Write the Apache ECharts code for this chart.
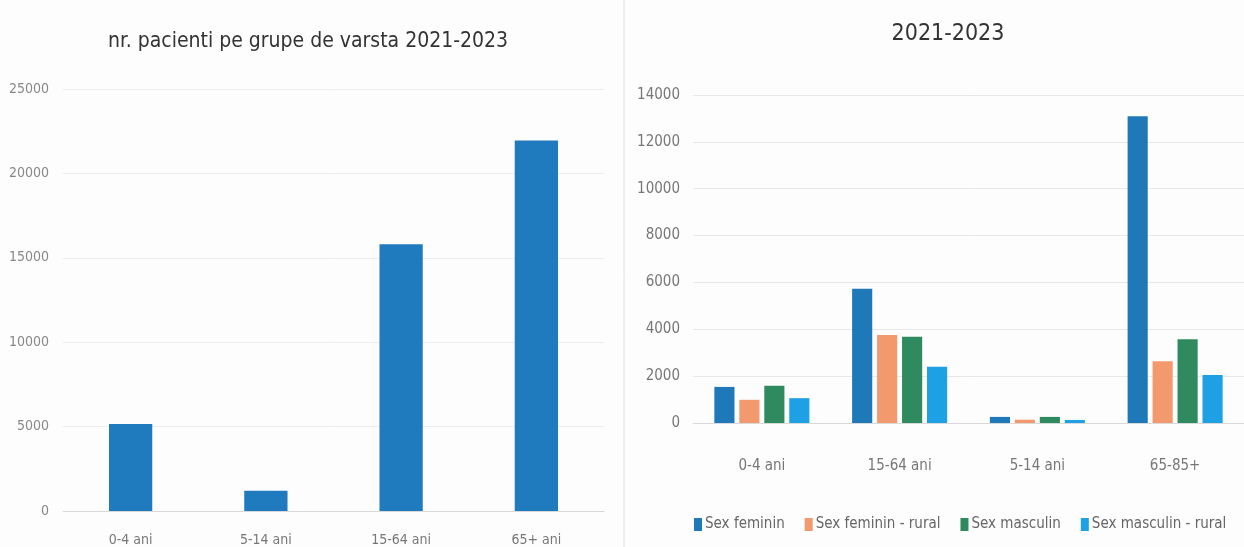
<!DOCTYPE html>
<html>
<head>
<meta charset="utf-8">
<script src="https://cdn.jsdelivr.net/npm/echarts@6/dist/echarts.min.js"></script>
<style>
html,body{margin:0;padding:0;background:#fdfdfd;}
#main{width:1244px;height:547px;}
</style>
</head>
<body>
<div id="main"></div>
<script>
// grafic stanga: total pacienti pe grupe de varsta
var ageGroups = ['0-4 ani', '5-14 ani', '15-64 ani', '65+ ani']
var totalPatients = [5150, 1200, 15800, 21950]

// grafic dreapta: pe sex si mediu
var ageGroupsSex = ['0-4 ani', '15-64 ani', '5-14 ani', '65-85+']
var seriesNames = ['Sex feminin', 'Sex feminin - rural', 'Sex masculin', 'Sex masculin - rural']
var femTotal = [1540, 5730, 260, 13090]
var femRural = [990, 3760, 140, 2640]
var mascTotal = [1590, 3680, 260, 3580]
var mascRural = [1060, 2400, 130, 2050]
var seriesColors = ['#1f79b8', '#f29a6e', '#2f8a5f', '#1ea0e4']

var font = '"DejaVu Sans Condensed", "Liberation Sans Narrow", "Liberation Sans", sans-serif'

var chart = echarts.init(document.getElementById('main'))

var rightData = [femTotal, femRural, mascTotal, mascRural]
var rightSeries = []
for (let i = 0; i < seriesNames.length; i++) {
	rightSeries.push({
		name: seriesNames[i],
		type: 'bar',
		xAxisIndex: 1,
		yAxisIndex: 1,
		barCategoryGap: '31%',
		barGap: '24%',
		itemStyle: {color: seriesColors[i]},
		data: rightData[i]
	})
}

// fara separator de mii
function plain(v) {
	return String(v)
}

var option = {
	backgroundColor: '#fdfdfd',
	animation: false,
	title: [
		{
			text: 'nr. pacienti pe grupe de varsta 2021-2023',
			left: 303,
			top: 26,
			textAlign: 'center',
			textStyle: {fontFamily: font, fontSize: 21, fontWeight: 'normal', color: '#333'}
		},
		{
			text: '2021-2023',
			left: 943,
			top: 18,
			textAlign: 'center',
			textStyle: {fontFamily: font, fontSize: 23, fontWeight: 'normal', color: '#333'}
		}
	],
	legend: {
		data: seriesNames,
		left: 689,
		top: 512,
		itemWidth: 8,
		itemHeight: 13,
		itemGap: 20,
		icon: 'rect',
		textStyle: {fontFamily: font, fontSize: 15, color: '#666', padding: [0, 0, 0, -2]}
	},
	graphic: [{
		type: 'line',
		shape: {x1: 624, y1: 0, x2: 624, y2: 547},
		style: {stroke: '#e2e2e2', lineWidth: 1}
	}],
	grid: [
		{left: 63, width: 541, top: 89, bottom: 35},
		{left: 693, width: 560, top: 95, bottom: 124}
	],
	xAxis: [
		{
			type: 'category',
			gridIndex: 0,
			data: ageGroups,
			axisTick: {show: false},
			axisLine: {lineStyle: {color: '#d8d8d8'}},
			axisLabel: {fontFamily: font, fontSize: 14, color: '#777', margin: 22}
		},
		{
			type: 'category',
			gridIndex: 1,
			data: ageGroupsSex,
			axisTick: {show: false},
			axisLine: {lineStyle: {color: '#d8d8d8'}},
			axisLabel: {fontFamily: font, fontSize: 15, color: '#777', margin: 36}
		}
	],
	yAxis: [
		{
			type: 'value',
			gridIndex: 0,
			min: 0,
			max: 25000,
			interval: 5000,
			axisLabel: {fontFamily: font, fontSize: 14, color: '#888', margin: 14, formatter: plain},
			splitLine: {lineStyle: {color: '#ececec'}}
		},
		{
			type: 'value',
			gridIndex: 1,
			min: 0,
			max: 14000,
			interval: 2000,
			axisLabel: {fontFamily: font, fontSize: 15, color: '#777', margin: 13, formatter: plain},
			splitLine: {lineStyle: {color: '#e8e8e8'}}
		}
	],
	series: [
		{
			name: 'nr. pacienti',
			type: 'bar',
			xAxisIndex: 0,
			yAxisIndex: 0,
			barCategoryGap: '68%',
			itemStyle: {color: '#1f7bbd'},
			data: totalPatients
		}
	].concat(rightSeries)
}

chart.setOption(option)
</script>
</body>
</html>
